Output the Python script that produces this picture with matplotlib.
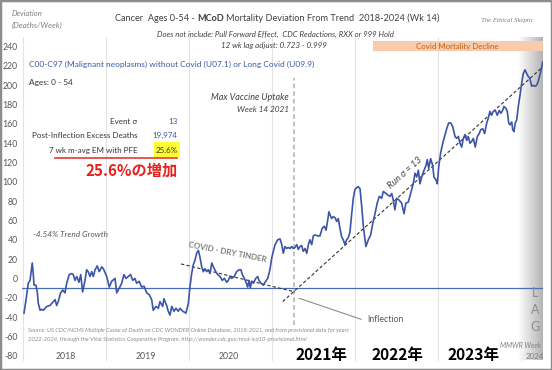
import numpy as np
import matplotlib
matplotlib.use("Agg")
import matplotlib.pyplot as plt
from matplotlib.colors import LinearSegmentedColormap
from matplotlib.patches import Rectangle

# ---------------- data ----------------
weeks = [0.3,1.6,3.0,4.1,5.5,6.1,6.6,7.8,8.7,9.3,10.4,11.4,12.4,13.5,14.6,16.6,18.7,19.8,20.8,21.8,
         23.3,24.6,26.0,27.1,28.7,30.2,31.2,32.3,33.4,34.8,35.9,37.1,38.6,39.6,40.6,41.7,42.8,43.8,44.9,46.3,
         47.5,49.1,50.1,52.2,53.8,55.3,57.4,58.5,60.1,61.6,63.0,64.3,65.7,67.2,68.5,69.9,71.0,72.6,74.1,75.6,
         77.3,78.9,80.4,81.4,83.1,84.6,85.6,87.3,88.1,89.8,90.8,91.9,93.0,94.4,95.7,97.1,98.2,99.9,101.9,103.4,
         104.4,105.5,106.5,107.6,108.6,109.7,110.7,111.8,112.8,113.9,114.9,115.9,117.0,118.1,119.1,120.6,121.8,123.3,124.7,126.0,
         127.5,128.5,129.5,130.6,132.2,133.7,135.2,136.4,137.3,138.5,139.4,140.6,141.5,142.3,143.1,144.2,145.7,146.9,147.7,149.0,
         150.4,151.9,153.2,154.6,155.7,156.7,157.8,159.5,160.9,162.0,163.0,164.0,165.1,166.1,167.2,168.2,169.2,170.3,171.4,172.4,
         173.4,174.5,175.5,176.6,177.7,178.7,179.7,180.8,181.8,182.9,184.6,186.0,187.4,188.7,189.8,190.8,191.6,192.5,193.3,194.3,
         195.4,196.5,197.5,198.5,199.6,200.6,201.7,202.7,203.7,204.8,205.9,206.9,207.9,209.0,210.0,211.1,212.2,213.2,214.8,216.3,
         217.8,219.1,220.5,221.9,223.2,224.7,225.7,227.4,228.8,229.9,231.0,232.0,233.0,234.1,235.7,237.2,238.7,239.9,241.4,242.9,
         244.5,245.6,246.7,247.7,248.7,249.8,250.8,252.5,253.3,254.2,255.4,256.7,257.5,258.8,259.6,260.5,261.7,263.0,264.2,265.5,
         266.7,268.0,269.3,270.7,271.7,272.8,273.8,274.9,275.9,277.0,278.0,279.0,280.1,281.2,282.2,283.4,284.7,285.9,286.8,288.1,
         289.3,290.6,291.6,292.6,293.7,294.7,296.0,297.2,298.5,299.5,300.6,301.4,302.7,303.5,304.4,305.2,306.3,306.9,307.7,308.5,
         309.4,310.4,311.5,312.5,313.5,314.6,315.7,316.7,317.7,318.8,319.8,320.9,321.9,322.9,324.0,325.1,325.7]
deviation = [-36,-22,-5,-2,16,5,-7,-7,-15,-26,-33,-32,-33,-31,-29,-28,-24,-22,-28,-24,
             -15,-12,-15,-5,4,5,4,-2,2,-4,4,-14,-2,9,7,2,7,2,9,13,
             7,12,10,2,-9,-3,0,-15,-10,-5,4,0,2,4,-2,0,-5,-3,-9,-8,
             -15,-17,-22,-33,-29,-31,-24,-29,-21,-28,-34,-38,-29,-34,-31,-34,-31,-34,-36,-26,
             -9,5,14,19,26,29,22,12,7,10,7,9,5,16,12,7,4,2,-2,0,
             -4,-2,2,0,2,7,9,9,4,0,-3,-9,-2,-10,-3,-5,0,2,-2,-5,
             -7,-3,0,9,21,28,35,40,41,35,26,33,31,32,31,33,31,32,35,30,
             33,34,28,31,26,35,40,35,44,45,44,44,52,54,50,60,69,65,62,64,
             63,59,62,52,43,40,35,40,42,48,67,83,92,94,95,93,74,54,33,40,
             45,57,67,78,85,83,90,88,86,85,88,81,71,83,81,78,67,78,79,88,
             98,109,105,112,98,105,110,117,123,114,124,117,105,102,98,116,130,140,147,155,
             161,161,157,147,145,147,140,136,145,149,143,147,140,142,145,136,147,150,154,155,
             150,161,166,173,169,173,174,169,174,171,174,178,176,173,161,159,162,154,152,161,
             164,178,190,202,212,216,212,209,207,199,200,199,200,204,211,219,224]

baseline = -10
year_starts = [0, 52, 104, 156, 208, 260, 312]
year_labels = ["2018", "2019", "2020", "2021年", "2022年", "2023年", "2024"]
year_label_x = [26.3, 76.5, 129.0, 187.2, 234.3, 282.6, 320.9]
y_ticks = list(range(-80, 241, 20))

vaccine_week = 169.9
run_trend = ([162.6, 325.7], [-24, 219])
tinder_trend = ([98.8, 170.3], [15, -14])
decline_span = (219, 325.7)

event_sigma = "13"
excess_deaths = "19,974"
em_pfe = "25.6%"

# ---------------- figure ----------------
W, H = 552, 370
fig = plt.figure(figsize=(W/100, H/100), dpi=100)
fig.patch.set_facecolor("white")

FONT = ["Lato", "DejaVu Sans"]
CJK = ["Noto Sans CJK JP", "DejaVu Sans"]
plt.rcParams["font.family"] = FONT
K = 1.18   # widen texts a little: reference glyphs are horizontally squeezed

ax = fig.add_axes([22/W, 1-360.5/H, (543-22)/W, (360.5-37)/H])
ax.set_xlim(-0.94, 325.9)
ax.set_ylim(-85, 250)
for s in ax.spines.values():
    s.set_visible(False)
ax.set_xticks([])
ax.set_yticks(y_ticks)
ax.set_yticklabels([str(t) for t in y_ticks], fontsize=6.3, color="#595959")
ax.tick_params(axis="y", length=0, pad=3)

for ys in year_starts:
    ax.axvline(ys, color="#e3e3e3", lw=0.8, zorder=0)

cmap = LinearSegmentedColormap.from_list("lag", ["#ffffff", "#b3b3b3"])
ax.imshow(np.linspace(0, 1, 64).reshape(1, -1), extent=[310.5, 325.9, -85, 250],
          aspect="auto", cmap=cmap, zorder=0.5)
ax.set_xlim(-0.94, 325.9)
ax.set_ylim(-85, 250)

ax.add_patch(Rectangle((decline_span[0], 235), decline_span[1]-decline_span[0], 11,
                       facecolor="#f8cbad", edgecolor="none", zorder=1))

ax.axhline(baseline, color="#4a6bb5", lw=0.9, zorder=2)
ax.plot([vaccine_week, vaccine_week], [-48, 208], color="#b0b0b0", lw=1.1,
        ls=(0, (3, 2)), zorder=1.5)
ax.plot(run_trend[0], run_trend[1], color="#333333", lw=0.8, ls=(0, (3, 2)), zorder=2.5)
ax.plot(tinder_trend[0], tinder_trend[1], color="#333333", lw=0.8, ls=(0, (3, 2)), zorder=2.5)
ax.plot(weeks, deviation, color="#3b55a8", lw=1.2, zorder=3)
ax.plot([173.0, 211.7], [-20.6, -42.3], color="#8c8c8c", lw=0.8, zorder=2)

r = fig.canvas.get_renderer()

def T(x, y, s, **kw):
    kw.setdefault("va", "center")
    return fig.text(x/W, 1-y/H, s, **kw)

def F(x, y, s, target, k=K, rotation=0, **kw):
    """text sized so its unrotated width is about the reference width (px)"""
    t = T(x, y, s, fontsize=10, **kw)
    w = t.get_window_extent(r).width
    t.set_fontsize(10*target*k/w)
    if rotation:
        t.set_rotation(rotation)
        t.set_rotation_mode("anchor")
    return t

F(457.5, 46, "Covid Mortality Decline", 75, k=1.1, ha="center", color="#c55a11")

year_fs = None
for lab, xv in zip(year_labels, year_label_x):
    xp = 23.5 + xv/0.6273
    if "年" in lab:
        F(xp, 355, lab, 50, k=1.05, ha="center", fontweight="bold", color="black", family=CJK)
    elif lab == "2024":
        T(535, 356.5, lab, ha="center", fontsize=year_fs*0.9, color="#7f7f7f")
    else:
        t = F(xp, 356.5, lab, 17.3, ha="center", color="#595959")
        year_fs = t.get_fontsize()

F(541.5, 346, "MMWR Week", 39, k=1.05, ha="right", style="italic", color="#7f7f7f")
for ch, yy in zip("LAG", [293, 310, 327]):
    T(535, yy, ch, ha="center", fontsize=9, color="#8c8c8c")

# title with bold part
pieces = [("Cancer  Ages 0-54 -", "normal"), ("MCoD", "bold"),
          ("Mortality Deviation From Trend  2018-2024 (Wk 14)", "normal")]
objs = [T(0, 18.3, s, ha="left", fontsize=10, fontweight=wt, color="#404040") for s, wt in pieces]
ta = T(0, 0, "a a", fontsize=10)
tb = T(0, 0, "aa", fontsize=10)
gap10 = ta.get_window_extent(r).width - tb.get_window_extent(r).width
ta.remove(); tb.remove()
tot10 = sum(o.get_window_extent(r).width for o in objs) + 2*gap10
tw = 288*1.12
fs = 10*tw/tot10
x0 = 276 - tw/2
for o in objs:
    o.set_fontsize(fs)
    o.set_x(x0/W)
    x0 += o.get_window_extent(r).width + gap10*fs/10

F(275, 34.3, "Does not include: Pull Forward Effect,  CDC Redactions, RXX or 999 Hold", 201,
  ha="center", style="italic", color="#404040")
F(274, 45.7, "12 wk lag adjust: 0.723 - 0.999", 89, ha="center", style="italic", color="#404040")
F(11.7, 13.3, "Deviation", 26, ha="left", style="italic", color="#7f7f7f")
F(11.7, 25, "(Deaths/Week)", 43, ha="left", style="italic", color="#7f7f7f")
F(507, 20.7, "The Ethical Skeptic", 53, k=1.0, ha="center", style="italic",
  color="#7f7f7f", family=["Liberation Serif", "DejaVu Serif"])

F(29.3, 64, "C00-C97 (Malignant neoplasms) without Covid (U07.1) or Long Covid (U09.9)", 240,
  ha="left", color="#3b5ba8")
F(29.3, 82, "Ages: 0 - 54", 37, ha="left", color="#333333")

# table: common font size taken from the longest label
rows = [("Event σ", event_sigma, 121.7, "#3b5ba8"),
        ("Post-Inflection Excess Deaths", excess_deaths, 135.7, "#3b5ba8"),
        ("7 wk m-avg EM with PFE", em_pfe, 150, "#333333")]
probe = F(0, -50, "Post-Inflection Excess Deaths", 93, k=1.12)
tab_fs = probe.get_fontsize()
probe.remove()
fig.patches.append(Rectangle((154/W, 1-157/H), 26/W, 14.5/H, transform=fig.transFigure,
                             facecolor="#ffff33", edgecolor="none", zorder=0))
for lab, val, yy, c in rows:
    T(137.3, yy, lab, ha="right", fontsize=tab_fs, color="#333333")
    T(177.3, yy, val, ha="right", fontsize=tab_fs, color=c)
fig.lines.append(plt.Line2D([55/W, 177.3/W], [1-158/H, 1-158/H], transform=fig.transFigure,
                            color="#e8392b", lw=1.2))
F(132, 170.5, "25.6%の増加", 88, k=1.05, ha="center", fontweight="bold", color="#e8201c", family=CJK)

F(33.3, 235, "-4.54% Trend Growth", 64, ha="left", style="italic", color="#595959")
F(227, 252.5, "COVID - DRY TINDER", 72, k=1.12, ha="center", fontweight="bold",
  color="#7f7f7f", rotation=-11)
F(289, 98, "Max Vaccine Uptake", 66, ha="right", style="italic", color="#404040")
F(289, 110, "Week 14 2021", 44, ha="right", style="italic", color="#404040")
F(405, 173, "Run σ = 13", 36, ha="center", style="italic", color="#404040", rotation=42)
F(367, 320, "Inflection", 31, ha="left", color="#595959")

F(28, 330, "Source: US CDC/NCHS Multiple Cause of Death on CDC WONDER Online Database, 2018-2021, and from provisional data for years",
  297, k=1.08, ha="left", style="italic", color="#8c8c8c")
F(28, 339.3, "2022-2024, through the Vital Statistics Cooperative Program, http://wonder.cdc.gov/mcd-icd10-provisional.html",
  258, k=1.08, ha="left", style="italic", color="#8c8c8c")

fig.patches.append(Rectangle((0, 0), 1, 1, transform=fig.transFigure, facecolor="none",
                             edgecolor="#8c8c8c", lw=2.5))

fig.savefig("out.png", dpi=100)
